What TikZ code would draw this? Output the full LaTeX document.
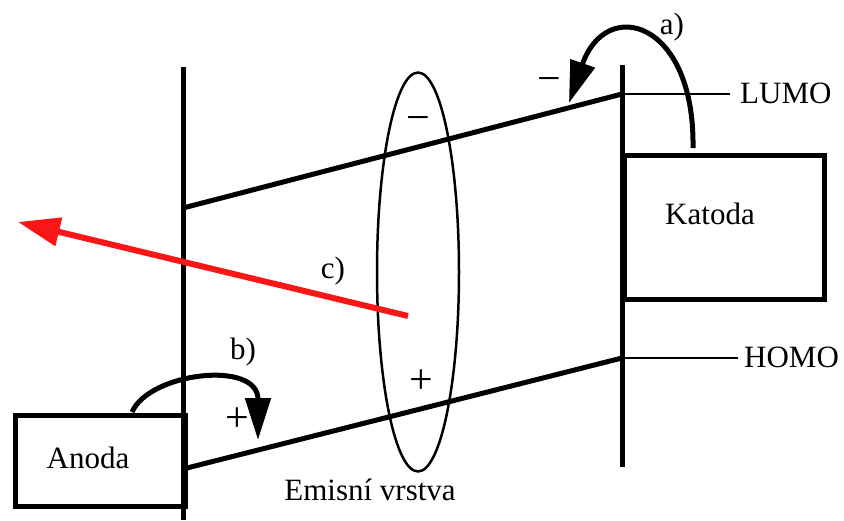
\documentclass[tikz,border=0pt]{standalone}
\usepackage{fontspec}
\setmainfont{Liberation Serif}
\newfontfamily\lblfont{Liberation Serif}
\usetikzlibrary{arrows.meta,shapes.geometric}
\definecolor{arrred}{RGB}{250,22,22}
\begin{document}
\begin{tikzpicture}[x=1pt,y=-1pt,
  thickline/.style={line width=5pt},
  thinline/.style={line width=2.5pt},
  boxline/.style={line width=4.5pt},
  lbl/.style={font=\lblfont\fontsize{31}{36}\selectfont, inner sep=0pt},
  sgn/.style={font=\lblfont\fontsize{42}{48}\selectfont, inner sep=0pt},
  curvearrow/.style={line width=5pt, -{Triangle[length=42pt,width=25pt]}},
  redarrow/.style={line width=6pt, draw=arrred, -{Triangle[length=42pt,width=28pt]}}
]
\useasboundingbox (0,0) rectangle (844,520);

% key points
\coordinate (Ltop) at (183,67);
\coordinate (Lbot) at (183,520);
\coordinate (Rtop) at (622,65);
\coordinate (Rbot) at (622,467);
\coordinate (lumoL) at (183,208);
\coordinate (lumoR) at (622,94);
\coordinate (homoL) at (183,469);
\coordinate (homoR) at (622,358);
\coordinate (lumoEnd) at (730,94);
\coordinate (homoEnd) at (738,358);

% boxes
\node[draw, boxline, minimum width=200pt, minimum height=144pt, inner sep=0pt, anchor=north west] (katoda) at (622,153) {};
\node[lbl] (katodaT) at (710,214) {Katoda};
\node[draw, boxline, minimum width=170pt, minimum height=91pt, inner sep=0pt, anchor=north west] (anoda) at (13,413) {};
\node[lbl] (anodaT) at (88,458) {Anoda};

% electrodes and levels
\draw[thickline] (Ltop) -- (Lbot);
\draw[thickline] (Rtop) -- (Rbot);
\draw[thickline] (lumoL) -- (lumoR);
\draw[thickline] (homoL) -- (homoR);
\draw[thinline] (lumoR) -- (lumoEnd);
\draw[thinline] (homoR) -- (homoEnd);
\node[lbl, anchor=west] (lumo) at (740,93) {LUMO};
\node[lbl, anchor=west] (homo) at (744,357) {HOMO};

% emission layer
\node[draw, thinline, ellipse, minimum width=82pt, minimum height=399pt, inner sep=0pt] (emis) at (418,272) {};
\node[lbl] (emisT) at (370,490) {Emisní vrstva};
\node[sgn] (minE) at (418,124) {−};
\node[sgn] (plusE) at (421,382) {+};

% a) electron injection
\coordinate (aStart) at (693,148);
\coordinate (aEnd) at (569,103);
\draw[curvearrow] (aStart) .. controls (695,20) and (606,-4) .. (aEnd);
\node[lbl] (aT) at (672,27) {a)};
\node[sgn] (minA) at (549,85) {−};

% b) hole injection
\coordinate (bStart) at (132,412);
\coordinate (bEnd) at (258,440);
\draw[curvearrow] (bStart) .. controls (150,372) and (258,360) .. (bEnd);
\node[lbl] (bT) at (243,352) {b)};
\node[sgn] (plusB) at (237,420) {+};

% c) emission
\coordinate (cStart) at (408,316);
\coordinate (cEnd) at (18,222);
\draw[redarrow] (cStart) -- (cEnd);
\node[lbl] (cT) at (333,271) {c)};
\end{tikzpicture}
\end{document}
